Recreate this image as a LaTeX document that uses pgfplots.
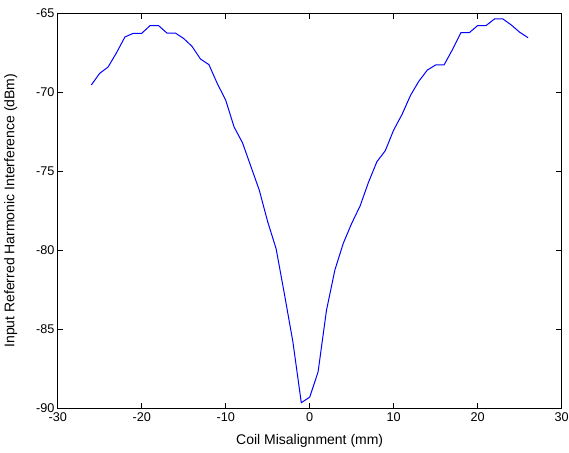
\documentclass[border=0pt]{standalone}
\usepackage{pgfplots}
\pgfplotsset{compat=1.18}
\usepackage{fontspec}
\setmainfont{Liberation Sans}
\begin{document}
\begin{tikzpicture}
\path[use as bounding box] (-43.3pt,-33.5pt) rectangle (383.5pt,306.2pt);
\begin{axis}[
    at={(0,0)}, anchor=south west,
    scale only axis,
    width=378pt, height=296.25pt,
    xmin=-30, xmax=30,
    ymin=-90, ymax=-65,
    xtick={-30,-20,...,30},
    ytick={-90,-85,...,-65},
    tick align=inside,
    major tick length=4pt,
    minor tick num=0,
    axis line style={black, line width=0.6pt},
    every tick/.style={black, line width=0.6pt},
    /pgf/number format/assume math mode=true,
    tick label style={font=\fontsize{9.5}{11}\selectfont},
    xticklabel style={yshift=0pt},
    yticklabel style={xshift=1pt},
    xlabel={Coil Misalignment (mm)},
    ylabel={Input Referred Harmonic Interference (dBm)},
    label style={font=\fontsize{10.5}{12}\selectfont},
    xlabel style={at={(axis description cs:0.5,-0.055)}, anchor=north},
    ylabel style={at={(axis description cs:-0.071,0.5)}, anchor=south},
]
\addplot[color={rgb,255:red,0;green,0;blue,255}, line width=0.75pt] coordinates {
(-26,-69.54) (-25,-68.80) (-24,-68.40) (-23,-67.50) (-22,-66.50)
(-21,-66.27) (-20,-66.27) (-19,-65.78) (-18,-65.78) (-17,-66.25)
(-16,-66.25) (-15,-66.60) (-14,-67.10) (-13,-67.90) (-12,-68.25)
(-11,-69.45) (-10,-70.50) (-9,-72.20) (-8,-73.20) (-7,-74.70)
(-6,-76.20) (-5,-78.20) (-4,-79.90) (-3,-82.80) (-2,-85.80)
(-1,-89.65) (0,-89.30) (1,-87.70) (2,-83.80) (3,-81.25)
(4,-79.56) (5,-78.30) (6,-77.20) (7,-75.70) (8,-74.40)
(9,-73.70) (10,-72.39) (11,-71.40) (12,-70.20) (13,-69.30)
(14,-68.60) (15,-68.27) (16,-68.27) (17,-67.30) (18,-66.23)
(19,-66.23) (20,-65.78) (21,-65.78) (22,-65.36) (23,-65.36)
(24,-65.74) (25,-66.20) (26,-66.55)
};
\end{axis}
\end{tikzpicture}
\end{document}
